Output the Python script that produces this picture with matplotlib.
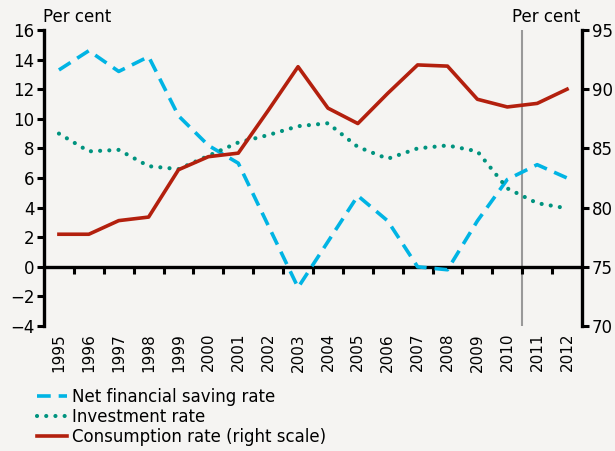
import numpy as np
import matplotlib.pyplot as plt

plt.rcParams['font.family'] = ['DejaVu Sans']

years = [str(y) for y in range(1995, 2013)]
saving = [13.3, 14.6, 13.2, 14.2, 10.2, 8.2, 7.0, 2.8, -1.4, 1.7, 4.8, 3.1, 0.0, -0.2, 3.1, 5.9, 6.9, 6.0]
investment = [9.0, 7.8, 7.9, 6.8, 6.6, 7.5, 8.4, 8.9, 9.5, 9.7, 8.1, 7.3, 8.0, 8.2, 7.8, 5.3, 4.3, 3.95]
consumption = [77.75, 77.75, 78.9, 79.2, 83.2, 84.3, 84.6, 88.2, 91.9, 88.4, 87.1, 89.65, 92.05, 91.95, 89.15, 88.5, 88.8, 90.0]

bg = '#f5f4f2'
cyan = '#00b4e4'
teal = '#00937f'
red = '#b3200e'

fig = plt.figure(figsize=(6.15, 4.51), dpi=100, facecolor=bg)
ax = fig.add_axes([44/615, 1-326/451, (582-44)/615, 296/451], facecolor=bg)
x = np.arange(len(years))

l1, = ax.plot(x, saving, color=cyan, lw=2.6, dashes=(3.8, 2.2), label='Net financial saving rate')
l2, = ax.plot(x, investment, color=teal, lw=3.0, dashes=(0.01, 2.2), dash_capstyle='round',
              label='Investment rate')
ax2 = ax.twinx()
l3, = ax2.plot(x, consumption, color=red, lw=2.6, label='Consumption rate (right scale)')
ax.axvline(15.5, color='#999999', lw=1.5, zorder=0)

ax.set_xlim(-0.5, 17.5)
ax.set_ylim(-4, 16)
ax2.set_ylim(70, 95)
ax.set_yticks(range(-4, 17, 2))
ax.set_yticklabels(['\u22124', '\u22122'] + [str(v) for v in range(0, 17, 2)])
ax2.set_yticks(range(70, 96, 5))

for a in (ax, ax2):
    a.spines['top'].set_visible(False)
    a.spines['bottom'].set_visible(False)
    a.spines['left'].set_linewidth(2.4)
    a.spines['right'].set_linewidth(2.4)
ax.spines['right'].set_visible(False)
ax2.spines['left'].set_visible(False)

ax.tick_params(axis='y', length=5, width=2.2, labelsize=12, pad=2)
ax2.tick_params(axis='y', length=5, width=2.2, labelsize=12, pad=2)

ax.set_xticks(x)
ax.set_xticklabels(years, rotation=90, fontsize=11)
ax.tick_params(axis='x', length=0, pad=5)

ax.axhline(0, color='black', lw=2.4, zorder=1)
sec = ax.secondary_xaxis(0.2)
sec.set_xticks(np.arange(0.5, 17, 1))
sec.set_xticklabels([])
sec.tick_params(length=5, width=2.2, direction='out')
sec.spines['bottom'].set_visible(False)

fig.text(43/615, 1-17/451, 'Per cent', fontsize=12, va='center', ha='left')
fig.text(580/615, 1-17/451, 'Per cent', fontsize=12, va='center', ha='right')

fig.legend([l1, l2, l3], [l1.get_label(), l2.get_label(), l3.get_label()],
           loc='upper left', bbox_to_anchor=(30/615, 1-381/451), frameon=False,
           fontsize=12, handlelength=1.8, handletextpad=0.3, labelspacing=0.12,
           borderaxespad=0)

fig.savefig('out.png', dpi=100, facecolor=bg)
